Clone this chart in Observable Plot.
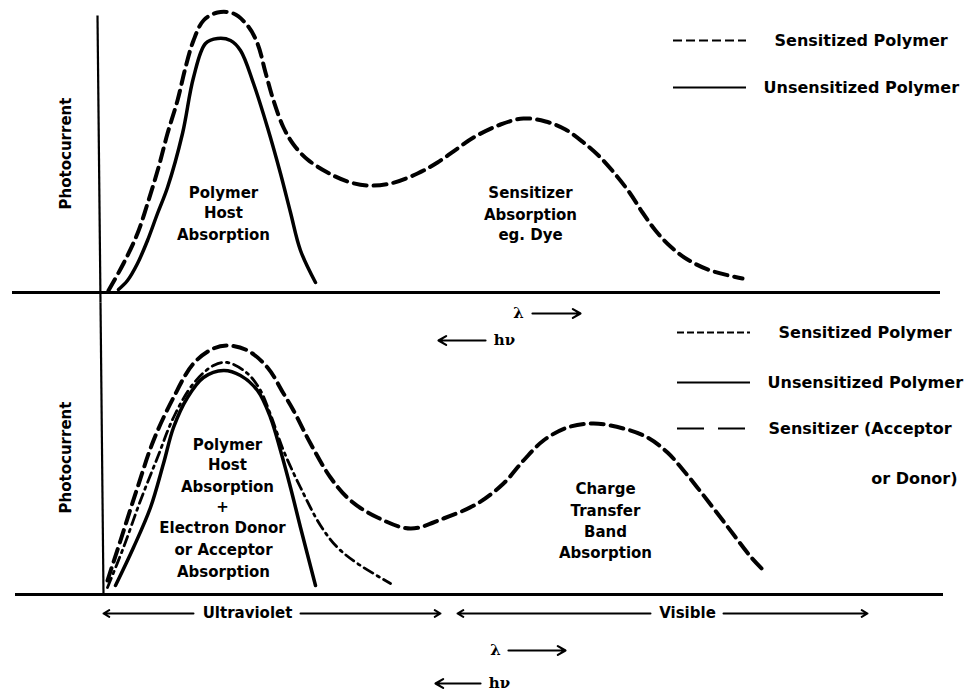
<!DOCTYPE html>
<html>
<head>
<meta charset="utf-8">
<script src="https://cdn.jsdelivr.net/npm/d3@7"></script>
<script src="https://cdn.jsdelivr.net/npm/@observablehq/plot@0.6"></script>
<style>
  html, body { margin: 0; padding: 0; background: white; }
  #chart { width: 972px; height: 694px; }
</style>
</head>
<body>
<div id="chart"></div>
<script>
// ---- Data (arbitrary wavelength units on x, arbitrary photocurrent on y) ----
const panels = ["top", "bottom"];

// Top panel: sensitized polymer (dashed) and unsensitized polymer (solid)
const topSensitized = [
  [0.8,0.2],[2.3,2.9],[3.7,5.9],[4.8,9.2],[5.8,12.5],[6.7,15.9],[7.7,19.2],[8.5,22.5],
  [9.3,25.2],[10.3,27.2],[11.7,28.0],[13.3,27.9],[14.7,26.7],[15.7,24.9],[16.5,22.0],
  [17.3,19.2],[18.3,16.5],[19.3,14.8],[20.7,13.3],[22.7,12.0],[24.7,11.1],
  [26.7,10.7],[29.0,10.9],[31.7,11.9],[33.7,13.0],[35.7,14.4],[37.3,15.5],[40.0,16.8],
  [42.3,17.4],[44.5,17.1],[46.5,16.3],[48.3,15.0],[50.0,13.5],[51.5,11.8],[52.9,10.0],
  [54.2,8.0],[55.5,6.2],[57.0,4.6],[58.7,3.3],[61.0,2.2],[64.2,1.4]
];
const topUnsensitized = [
  [1.8,0.3],[2.7,1.2],[3.7,2.9],[4.7,5.2],[5.7,7.9],[6.7,10.5],[8.2,15.9],[9.3,21.5],
  [10.5,24.9],[11.7,25.4],[13.0,25.2],[14.0,24.2],[15.3,20.9],[16.7,16.5],[18.0,11.9],
  [19.0,8.0],[20.0,4.2],[21.5,1.0]
];

// Bottom panel: sensitized (dashed), unsensitized (solid), sensitizer (dash-dot)
const bottomSensitized = [
  [0.7,1.4],[2.0,5.4],[3.7,10.7],[5.3,15.4],[7.3,19.7],[9.3,23.1],[11.3,24.6],[12.7,24.9],
  [14.7,24.4],[16.7,22.7],[18.3,20.1],[19.3,18.4],[21.0,15.1],[23.0,11.7],[25.0,9.4],
  [27.7,7.7],[31.0,6.6],[34.3,7.6],[37.7,9.1],[40.3,11.1],[42.3,13.4],[44.3,15.4],
  [46.7,16.7],[49.3,17.1],[52.3,16.6],[54.7,15.7],[56.7,14.2],[58.3,12.4],[60.0,10.3],
  [61.7,8.1],[63.3,6.0],[65.0,3.8],[66.5,2.2]
];
const bottomUnsensitized = [
  [1.5,0.9],[3.3,4.7],[5.0,8.7],[6.3,13.1],[7.3,16.7],[8.7,19.7],[10.3,21.7],[12.3,22.4],
  [14.0,21.9],[15.7,20.4],[17.0,17.7],[18.0,14.4],[19.0,10.7],[20.0,6.7],[21.5,0.9]
];
const bottomSensitizer = [
  [0.7,0.7],[2.3,4.7],[4.0,9.4],[5.7,13.7],[7.3,17.7],[9.3,21.1],[11.3,22.9],[12.7,23.2],
  [14.7,22.1],[16.0,20.4],[17.0,18.0],[18.3,14.4],[20.0,10.7],[22.0,6.9],[23.7,4.7],
  [25.7,3.1],[29.0,1.1]
];

// Annotation labels
const topLabels = [
  {x:12.3, y:9.9, t:"Polymer"}, {x:12.3, y:7.9, t:"Host"}, {x:12.3, y:5.7, t:"Absorption"},
  {x:43.0, y:9.9, t:"Sensitizer"}, {x:43.0, y:7.7, t:"Absorption"}, {x:43.0, y:5.7, t:"eg. Dye"}
];
const bottomLabels = [
  {x:12.7, y:14.9, t:"Polymer"}, {x:12.7, y:12.9, t:"Host"}, {x:12.7, y:10.7, t:"Absorption"},
  {x:12.2, y:8.7, t:"+"}, {x:12.2, y:6.6, t:"Electron Donor"}, {x:12.3, y:4.4, t:"or Acceptor"},
  {x:12.3, y:2.2, t:"Absorption"},
  {x:50.5, y:10.5, t:"Charge"}, {x:50.5, y:8.3, t:"Transfer"}, {x:50.5, y:6.2, t:"Band"},
  {x:50.5, y:4.1, t:"Absorption"}
];
const legendTop = [
  {y:25.2, t:"Sensitized Polymer", x:67.4},
  {y:20.5, t:"Unsensitized Polymer", x:66.3}
];
const legendBottom = [
  {y:26.2, t:"Sensitized Polymer", x:67.8},
  {y:21.2, t:"Unsensitized Polymer", x:66.7},
  {y:16.6, t:"Sensitizer (Acceptor", x:66.8}
];
const yLabel = "Photocurrent";
const regionLabels = [{x:14.7, t:"Ultraviolet"}, {x:58.7, t:"Visible"}];

// ---- Build tables ----
const pts = (arr, panel) => arr.map(([x, y]) => ({x, y, panel}));
const lbl = (arr, panel) => arr.map(d => ({...d, panel}));

const FONT = "DejaVu Sans";
const base = {fy: "panel"};

const chart = Plot.plot({
  width: 972,
  height: 694,
  marginTop: 0,
  marginBottom: 90,
  marginLeft: 0,
  marginRight: 0,
  x: {domain: [-10, 87.2], axis: null},
  y: {domain: [-1, 29.2], axis: null},
  fy: {domain: panels, padding: 0, axis: null},
  style: {fontFamily: FONT, background: "white", color: "black"},
  marks: [
    // axes
    Plot.link([{panel:"top", x1:-0.3, y1:27.7, x2:0.0, y2:-1}, {panel:"bottom", x1:0.0, y1:29.2, x2:0.3, y2:0}],
      {...base, x1:"x1", y1:"y1", x2:"x2", y2:"y2", stroke:"black", strokeWidth:2.2}),
    Plot.ruleY([{panel:"top", x1:-8.8, x2:84.0}, {panel:"bottom", x1:-8.5, x2:84.3}],
      {...base, y: () => 0, x1:"x1", x2:"x2", stroke:"black", strokeWidth:3}),
    // curves
    Plot.line(pts(topSensitized, "top"), {...base, x:"x", y:"y", curve:"catmull-rom", stroke:"black", strokeWidth:4, strokeDasharray:"13,7"}),
    Plot.line(pts(topUnsensitized, "top"), {...base, x:"x", y:"y", curve:"catmull-rom", stroke:"black", strokeWidth:3.5}),
    Plot.line(pts(bottomSensitized, "bottom"), {...base, x:"x", y:"y", curve:"catmull-rom", stroke:"black", strokeWidth:4, strokeDasharray:"13,7"}),
    Plot.line(pts(bottomUnsensitized, "bottom"), {...base, x:"x", y:"y", curve:"catmull-rom", stroke:"black", strokeWidth:3.5}),
    Plot.line(pts(bottomSensitizer, "bottom"), {...base, x:"x", y:"y", curve:"catmull-rom", stroke:"black", strokeWidth:2.8, strokeDasharray:"10,5,2.5,5"}),
    // legend swatches
    Plot.ruleY([{panel:"top", y:25.2}], {...base, y:"y", x1:57.3, x2:64.6, stroke:"black", strokeWidth:2, strokeDasharray:"9,4"}),
    Plot.ruleY([{panel:"top", y:20.5}], {...base, y:"y", x1:57.3, x2:64.6, stroke:"black", strokeWidth:2}),
    Plot.ruleY([{panel:"bottom", y:26.2}], {...base, y:"y", x1:57.7, x2:65.0, stroke:"black", strokeWidth:2, strokeDasharray:"7,3"}),
    Plot.ruleY([{panel:"bottom", y:21.2}], {...base, y:"y", x1:57.7, x2:65.0, stroke:"black", strokeWidth:2}),
    Plot.ruleY([{panel:"bottom", y:16.6}], {...base, y:"y", x1:57.7, x2:65.0, stroke:"black", strokeWidth:2, strokeDasharray:"27,14"}),
    // legend text
    Plot.text(lbl(legendTop, "top"), {...base, x:"x", y:"y", text:"t", textAnchor:"start", fontSize:16, fontWeight:"bold"}),
    Plot.text(lbl(legendBottom, "bottom"), {...base, x:"x", y:"y", text:"t", textAnchor:"start", fontSize:16, fontWeight:"bold"}),
    Plot.text([{panel:"bottom", x:85.7, y:11.6, t:"or Donor)"}], {...base, x:"x", y:"y", text:"t", textAnchor:"end", fontSize:16, fontWeight:"bold"}),
    // in-plot labels
    Plot.text(lbl(topLabels, "top"), {...base, x:"x", y:"y", text:"t", fontSize:15, fontWeight:"bold"}),
    Plot.text(lbl(bottomLabels, "bottom"), {...base, x:"x", y:"y", text:"t", fontSize:15, fontWeight:"bold"}),
    // y labels
    Plot.text([{panel:"top", y:13.9}, {panel:"bottom", y:13.7}], {...base, x: () => -3.4, y:"y", text: () => yLabel, rotate:-90, fontSize:15, fontWeight:"bold"}),
    // lambda / h nu arrows
    Plot.arrow([{panel:"top", x1:43.2, x2:48.0, y:-2.1}, {panel:"bottom", x1:40.8, x2:46.5, y:-5.6}],
      {...base, x1:"x1", x2:"x2", y1:"y", y2:"y", stroke:"black", strokeWidth:2.2, headLength:6}),
    Plot.arrow([{panel:"top", x1:38.5, x2:33.8, y:-4.8}, {panel:"bottom", x1:38.0, x2:33.5, y:-8.9}],
      {...base, x1:"x1", x2:"x2", y1:"y", y2:"y", stroke:"black", strokeWidth:2.2, headLength:6}),
    Plot.text([{panel:"top", x:41.8, y:-2.1}, {panel:"bottom", x:39.5, y:-5.6}],
      {...base, x:"x", y:"y", text: () => "\u03BB", fontSize:15, fontWeight:"bold", fontFamily:"DejaVu Serif"}),
    Plot.text([{panel:"top", x:40.4, y:-4.8}, {panel:"bottom", x:39.9, y:-8.9}],
      {...base, x:"x", y:"y", text: () => "h\u03BD", fontSize:15, fontWeight:"bold", fontFamily:"DejaVu Serif"}),
    // Ultraviolet / Visible spans
    Plot.arrow([{panel:"bottom", x1:9.3, x2:0.3}, {panel:"bottom", x1:20.0, x2:34.0},
                {panel:"bottom", x1:55.0, x2:35.7}, {panel:"bottom", x1:62.3, x2:76.7}],
      {...base, x1:"x1", x2:"x2", y1: () => -1.9, y2: () => -1.9, stroke:"black", strokeWidth:2, headLength:5}),
    Plot.text(lbl(regionLabels, "bottom"), {...base, x:"x", y: () => -1.9, text:"t", fontSize:15, fontWeight:"bold"})
  ]
});
document.getElementById("chart").appendChild(chart);
</script>
</body>
</html>
